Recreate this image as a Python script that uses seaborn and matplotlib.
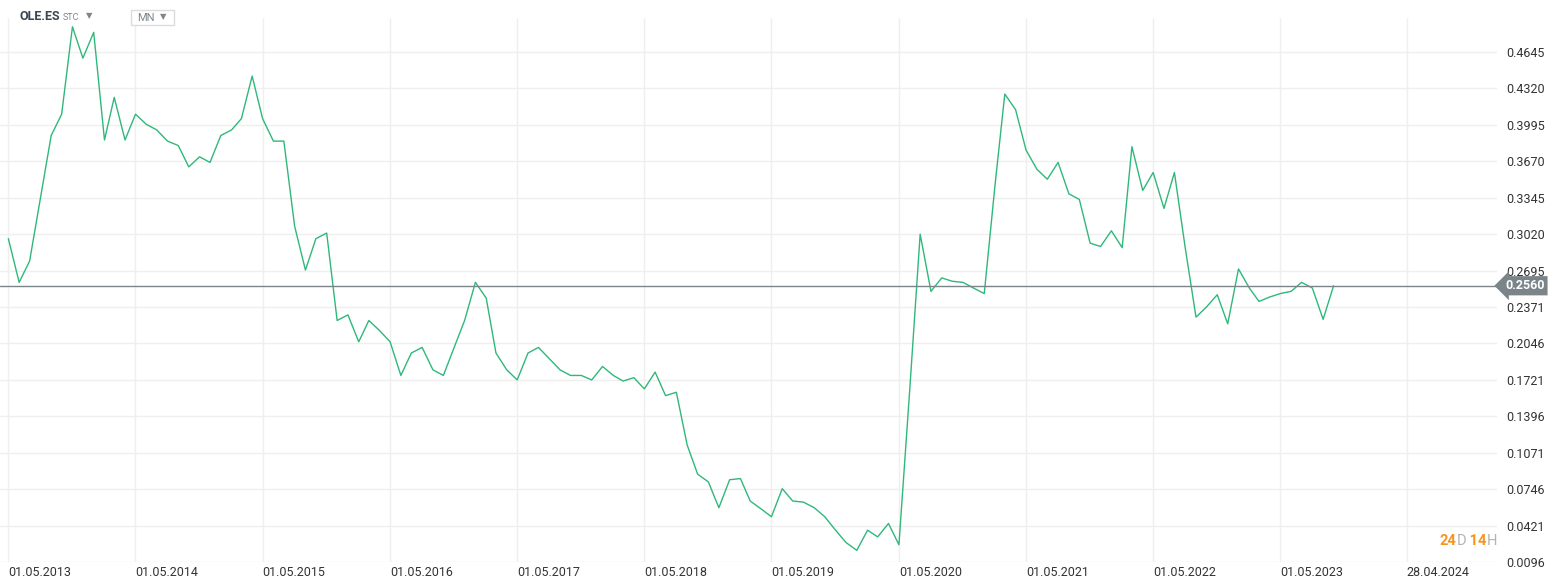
import pandas as pd
import numpy as np
import seaborn as sns
import matplotlib.pyplot as plt
import matplotlib.transforms as mtransforms
from matplotlib.patches import Rectangle

# monthly closes, May 2013 .. Oct 2023
price_2013 = [0.298, 0.259, 0.278, 0.334, 0.390, 0.409, 0.487, 0.459]
price_2014 = [0.482, 0.386, 0.424, 0.386, 0.409, 0.400, 0.395, 0.385, 0.381, 0.362, 0.371, 0.366]
price_2015 = [0.390, 0.395, 0.405, 0.443, 0.405, 0.385, 0.385, 0.309, 0.270, 0.298, 0.303, 0.225]
price_2016 = [0.230, 0.206, 0.225, 0.216, 0.206, 0.176, 0.196, 0.201, 0.181, 0.176, 0.201, 0.225]
price_2017 = [0.259, 0.245, 0.196, 0.181, 0.172, 0.196, 0.201, 0.191, 0.181, 0.176, 0.176, 0.172]
price_2018 = [0.184, 0.176, 0.171, 0.174, 0.164, 0.179, 0.158, 0.161, 0.114, 0.088, 0.081, 0.058]
price_2019 = [0.083, 0.084, 0.064, 0.057, 0.050, 0.075, 0.064, 0.063, 0.058, 0.050, 0.038, 0.027]
price_2020 = [0.020, 0.038, 0.032, 0.044, 0.025, 0.163, 0.302, 0.251, 0.263, 0.260, 0.259, 0.254]
price_2021 = [0.249, 0.346, 0.427, 0.413, 0.377, 0.360, 0.351, 0.366, 0.338, 0.333, 0.294, 0.291]
price_2022 = [0.305, 0.290, 0.380, 0.341, 0.357, 0.325, 0.357, 0.290, 0.228, 0.237, 0.248, 0.222]
price_2023 = [0.271, 0.254, 0.242, 0.246, 0.249, 0.251, 0.259, 0.254, 0.226, 0.256]

last_price = 0.2560
y_tick_labels = ['0.0096', '0.0421', '0.0746', '0.1071', '0.1396', '0.1721', '0.2046', '0.2371',
                 '0.2695', '0.3020', '0.3345', '0.3670', '0.3995', '0.4320', '0.4645']
x_tick_dates = ['2013-05-01', '2014-05-01', '2015-05-01', '2016-05-01', '2017-05-01', '2018-05-01',
                '2019-05-01', '2020-05-01', '2021-05-01', '2022-05-01', '2023-05-01', '2024-04-28']

prices = (price_2013 + price_2014 + price_2015 + price_2016 + price_2017 + price_2018
          + price_2019 + price_2020 + price_2021 + price_2022 + price_2023)
df = pd.DataFrame({'date': pd.date_range('2013-05-01', periods=len(prices), freq='MS'),
                   'close': prices})

sns.set_style('white')
plt.rcParams['font.family'] = ['Roboto', 'DejaVu Sans']

W, H = 1565, 588
fig = plt.figure(figsize=(W / 100, H / 100), dpi=100)
ax = fig.add_axes([0.0, 0.0442, 0.9565, 0.925])

sns.lineplot(data=df, x='date', y='close', ax=ax, color='#2fb87a', linewidth=1.0)

ax.axhline(last_price, color='#7b8589', linewidth=1.0, zorder=3)

y_ticks = [float(t) for t in y_tick_labels]
x_ticks = pd.to_datetime(x_tick_dates)
ax.set_yticks(y_ticks)
ax.set_yticklabels(y_tick_labels)
ax.set_xticks(x_ticks)
ax.set_xticklabels([d.strftime('%d.%m.%Y') for d in x_ticks], ha='left')
ax.set_ylim(0.0096, 0.4947)
ax.set_xlim(pd.Timestamp('2013-04-07'), pd.Timestamp('2025-01-12'))

ax.yaxis.tick_right()
ax.tick_params(axis='y', length=0, pad=7, labelsize=9, labelcolor='#333333')
ax.tick_params(axis='x', length=0, pad=3, labelsize=9, labelcolor='#333333')
ax.grid(True, color='#efefef', linewidth=1.0)
ax.set_axisbelow(True)
for s in ax.spines.values():
    s.set_visible(False)
ax.set_xlabel('')
ax.set_ylabel('')

# last price tag on the right
trans = mtransforms.blended_transform_factory(ax.transAxes, ax.transData)
trans = mtransforms.offset_copy(trans, fig=fig, x=8, y=0, units='dots')
ax.text(1.0, last_price, '0.2560', transform=trans, ha='left', va='center',
        fontsize=9, fontweight='bold', color='white', zorder=5,
        bbox=dict(boxstyle='larrow,pad=0.25', facecolor='#7b8589', edgecolor='none'))

# header
fig.text(20 / W, 1 - 17 / H, 'OLE.ES', fontsize=9, fontweight='bold', color='#3a4652', va='center')
fig.text(63 / W, 1 - 18 / H, 'STC', fontsize=6.5, color='#7d868c', va='center')
fig.text(86 / W, 1 - 16 / H, '\u25bc', fontsize=6, color='#7d868c', va='center')
fig.patches.append(Rectangle((131 / W, 1 - 25 / H), 43 / W, 15 / H, transform=fig.transFigure,
                             facecolor='white', edgecolor='#dcdcdc', linewidth=1.0))
fig.text(137 / W, 1 - 18 / H, 'MN', fontsize=8, color='#7d868c', va='center')
fig.text(160 / W, 1 - 17 / H, '\u25bc', fontsize=6, color='#7d868c', va='center')

# countdown
t1 = ax.text(1440 / W / 0.9565, 0.038, '24', transform=ax.transAxes, fontsize=10.5,
             fontweight='bold', color='#f7941d', va='center')
t2 = ax.annotate('D', xy=(1, 0.5), xycoords=t1, va='center', fontsize=10.5, color='#b3b3b3')
t3 = ax.annotate(' 14', xy=(1, 0.5), xycoords=t2, va='center', fontsize=10.5,
                 fontweight='bold', color='#f7941d')
ax.annotate('H', xy=(1, 0.5), xycoords=t3, va='center', fontsize=10.5, color='#b3b3b3')

fig.savefig('out.png', dpi=100)
